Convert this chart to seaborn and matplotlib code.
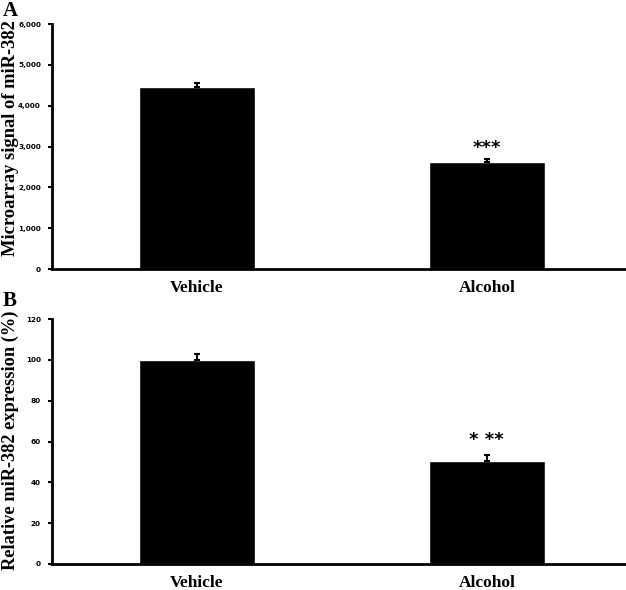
import numpy as np
import pandas as pd
import matplotlib
matplotlib.use("Agg")
import matplotlib.pyplot as plt
import seaborn as sns

groups = ["Vehicle", "Alcohol"]
signal = [4465, 2615]
signal_err = [90, 80]
relative = [100, 50.5]
relative_err = [3, 3]
stars = ["***", "* **"]

sns.set_style("white")
plt.rcParams["text.color"] = "black"
plt.rcParams["axes.labelcolor"] = "black"
plt.rcParams["xtick.color"] = "black"
plt.rcParams["ytick.color"] = "black"
serif = ["Liberation Serif", "DejaVu Serif"]

fig = plt.figure(figsize=(6.26, 5.90), dpi=100)
axA = fig.add_axes([52/626, 1-269/590, 574/626, 245/590])
axB = fig.add_axes([52/626, 1-564/590, 574/626, 245/590])


def panel(ax, vals, errs, ylab, lab_size, lab_y, ymax, ystep, fmt, star, star_off):
    df = pd.DataFrame({"group": groups, "value": vals})
    sns.barplot(data=df, x="group", y="value", color="black", width=0.4,
                saturation=1, ax=ax, errorbar=None)
    ax.errorbar([0, 1], vals, yerr=[[0, 0], errs], fmt="none", ecolor="black",
                elinewidth=1.5, capsize=2.5, capthick=1.5)
    ax.set_xlim(-0.5, 1.48)
    ax.set_ylim(0, ymax)
    ax.set_yticks(np.arange(0, ymax + 1, ystep))
    ax.set_yticklabels([fmt.format(v) for v in np.arange(0, ymax + 1, ystep)],
                       fontsize=5.2, fontweight="bold", family="DejaVu Sans")
    ax.set_xticks([0.5], minor=True)
    ax.tick_params(axis="x", which="major", length=0, pad=8)
    ax.tick_params(axis="x", which="minor", length=4, width=1.5, direction="out")
    ax.tick_params(axis="y", length=3, width=1.5, direction="out", pad=5, left=True)
    for lab in ax.get_xticklabels():
        lab.set_fontsize(12.5)
        lab.set_fontweight("bold")
        lab.set_family(serif)
    ax.set_xlabel("")
    ax.set_ylabel(ylab, fontsize=lab_size, fontweight="bold", family=serif)
    ax.yaxis.set_label_coords(-33/574, lab_y)
    for s in ["top", "right"]:
        ax.spines[s].set_visible(False)
    for s in ["left", "bottom"]:
        ax.spines[s].set_linewidth(2)
        ax.spines[s].set_color("black")
    ax.text(1, vals[1] + errs[1] + star_off, star, ha="center", va="bottom",
            fontsize=13, fontweight="bold", family="DejaVu Sans")


panel(axA, signal, signal_err, "Microarray signal of miR-382", 13.3, 0.533,
      6000, 1000, "{:,.0f}", stars[0], 60)
panel(axB, relative, relative_err, "Relative miR-382 expression (%)", 13.2, 0.505,
      120, 20, "{:.0f}", stars[1], 3)

fig.text(3/626, 1-1/590, "A", fontsize=15, fontweight="bold", family=serif,
         ha="left", va="top")
fig.text(3/626, 1-291/590, "B", fontsize=15, fontweight="bold", family=serif,
         ha="left", va="top")

fig.savefig("out.png", dpi=100)
